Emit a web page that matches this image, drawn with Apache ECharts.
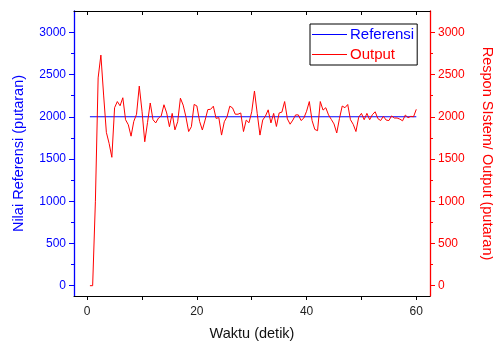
<!DOCTYPE html>
<html>
<head>
<meta charset="utf-8">
<script src="https://cdn.jsdelivr.net/npm/echarts@6/dist/echarts.min.js"></script>
<style>
html,body{margin:0;padding:0;background:#fff;}
#chart{width:493px;height:345px;}
</style>
</head>
<body>
<div id="chart"></div>
<script>
// ---- data ----
const times = [0.5,1,1.5,2,2.5,3,3.5,4,4.5,5,5.5,6,6.5,7,7.5,8,8.5,9,9.5,10,10.5,11,11.5,12,12.5,13,13.5,14,14.5,15,15.5,16,16.5,17,17.5,18,18.5,19,19.5,20,20.5,21,21.5,22,22.5,23,23.5,24,24.5,25,25.5,26,26.5,27,27.5,28,28.5,29,29.5,30,30.5,31,31.5,32,32.5,33,33.5,34,34.5,35,35.5,36,36.5,37,37.5,38,38.5,39,39.5,40,40.5,41,41.5,42,42.5,43,43.5,44,44.5,45,45.5,46,46.5,47,47.5,48,48.5,49,49.5,50,50.5,51,51.5,52,52.5,53,53.5,54,54.5,55,55.5,56,56.5,57,57.5,58,58.5,59,59.5,60];
const outputValues = [
  0,0,1000,2460,2730,2257,1815,1685,1520,2107,
  2180,2130,2225,1965,1905,1770,1945,2030,2363,2065,
  1704,1930,2163,1965,1927,1985,2010,2142,2045,1882,
  2040,1845,1941,2220,2138,2000,1825,1882,2146,2128,
  1945,1843,1961,2085,2088,2125,1981,1990,1783,1941,
  2000,2125,2105,2030,2030,2045,1825,1961,1929,2059,
  2305,2040,1783,1961,2008,2082,1927,2040,1885,2045,
  2055,2180,1975,1912,1961,2022,2022,1955,1985,2065,
  2180,1955,1850,1835,2180,2079,2107,2022,1969,1915,
  1808,1981,2127,2107,2145,1965,1910,1825,1995,2040,
  1965,2040,1965,2025,2059,1978,1955,2005,1961,1955,
  2010,1985,1985,1972,1952,2020,1989,2005,2000,2088
];
const refTimes = [0.5, 60];
const refValues = [2000, 2000];
const xTicks = [0,10,20,30,40,50,60];
const xLabels = [0,20,40,60];
const yMajor = [0,500,1000,1500,2000,2500,3000];
const yMinor = [250,750,1250,1750,2250,2750];
const seriesNames = ['Referensi','Output'];

// ---- chart ----
const BLUE = '#0000ff', RED = '#ff0000';
const FONT = '"Liberation Sans", Arial, sans-serif';
const X_MIN = -2.4, X_MAX = 62.5, Y_MIN = -122, Y_MAX = 3252;
const plain = v => String(Math.round(v));

function yAx(pos, color, ticks, len, labels, name){
  const a = {
    type:'value', min:Y_MIN, max:Y_MAX, position:pos,
    axisLine:{show: !!labels, onZero:false, lineStyle:{color:color, width:1.3}},
    axisTick:{show:true, customValues:ticks, length:len, lineStyle:{color:color, width:1}},
    axisLabel:labels ? {customValues:labels, formatter:plain, color:color, fontSize:12, fontFamily:FONT, margin:8} : {show:false},
    splitLine:{show:false}
  };
  if (name){
    a.name = name; a.nameLocation = 'middle';
    a.nameTextStyle = {color:color, fontSize:14.5, fontFamily:FONT};
    a.nameGap = pos === 'right' ? 49 : 48;
    if (pos === 'right') a.nameRotate = -90;
  }
  return a;
}

const chart = echarts.init(document.getElementById('chart'), null, {renderer:'canvas'});
chart.setOption({
  animation:false,
  backgroundColor:'#fff',
  grid:{left:74, right:63, top:11, bottom:49, containLabel:false, outerBoundsMode:'none'},
  legend:{
    orient:'vertical', left:310, top:24,
    padding:[3,3,3,2], itemGap:5, itemWidth:35, itemHeight:1.2,
    icon:'rect',
    borderColor:'#000', borderWidth:1, backgroundColor:'#fff',
    data:[
      {name:seriesNames[0], textStyle:{color:BLUE}},
      {name:seriesNames[1], textStyle:{color:RED}}
    ],
    textStyle:{fontSize:15, fontFamily:FONT, padding:[0,0,0,-2], lineHeight:15}
  },
  xAxis:[
    {type:'value', min:X_MIN, max:X_MAX, position:'bottom',
     axisLine:{onZero:false, lineStyle:{color:'#000', width:1}},
     axisTick:{customValues:xTicks, length:4, lineStyle:{color:'#000'}},
     axisLabel:{customValues:xLabels, formatter:plain, color:'#222', fontSize:12, fontFamily:FONT, margin:10},
     splitLine:{show:false},
     name:'Waktu (detik)', nameLocation:'middle', nameGap:30,
     nameTextStyle:{color:'#111', fontSize:14.5, fontFamily:FONT}},
    {type:'value', min:X_MIN, max:X_MAX, position:'top',
     axisLine:{onZero:false, lineStyle:{color:'#000', width:1}},
     axisTick:{customValues:xTicks, inside:true, length:4, lineStyle:{color:'#000'}},
     axisLabel:{show:false}, splitLine:{show:false}}
  ],
  yAxis:[
    yAx('left', BLUE, yMajor, 5, yMajor, 'Nilai Referensi (putaran)'),
    yAx('left', BLUE, yMinor, 3, null, null),
    yAx('right', RED, yMajor, 5, yMajor, 'Respon SIstem/ Output (putaran)'),
    yAx('right', RED, yMinor, 3, null, null)
  ],
  series:[
    {name:seriesNames[0], type:'line', xAxisIndex:0, yAxisIndex:0, symbol:'none',
     lineStyle:{color:BLUE, width:1}, itemStyle:{color:BLUE},
     data: refTimes.map((t,i)=>[t, refValues[i]])},
    {name:seriesNames[1], type:'line', xAxisIndex:0, yAxisIndex:2, symbol:'none',
     lineStyle:{color:RED, width:1}, itemStyle:{color:RED},
     data: times.map((t,i)=>[t, outputValues[i]])}
  ]
});
</script>
</body>
</html>
